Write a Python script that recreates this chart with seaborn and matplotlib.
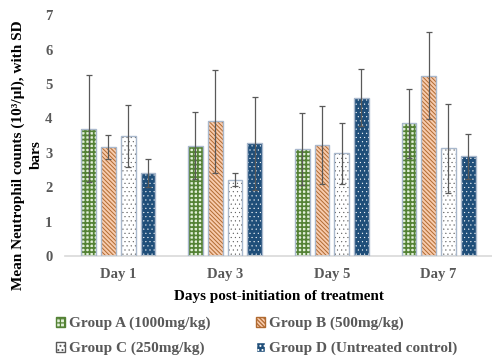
import numpy as np
import pandas as pd
import matplotlib
matplotlib.use('Agg')
import matplotlib.pyplot as plt
import seaborn as sns
from matplotlib.patches import Patch, Rectangle

days = ['Day 1', 'Day 3', 'Day 5', 'Day 7']
groups = ['Group A (1000mg/kg)', 'Group B (500mg/kg)',
          'Group C (250mg/kg)', 'Group D (Untreated control)']

# mean neutrophil counts per group, one value per day
group_a = [3.70, 3.21, 3.11, 3.85]
group_b = [3.17, 3.91, 3.22, 5.24]
group_c = [3.49, 2.22, 2.98, 3.13]
group_d = [2.41, 3.27, 4.60, 2.90]

# standard deviations
sd_a = [1.55, 0.98, 1.04, 1.00]
sd_b = [0.34, 1.50, 1.14, 1.27]
sd_c = [0.89, 0.19, 0.88, 1.30]
sd_d = [0.41, 1.36, 0.83, 0.65]

means = [group_a, group_b, group_c, group_d]
sds = [sd_a, sd_b, sd_c, sd_d]

df = pd.DataFrame({
    'day': np.tile(days, 4),
    'group': np.repeat(groups, 4),
    'count': np.concatenate(means),
})

sns.set_style('white')
plt.rcParams['font.family'] = ['Liberation Serif', 'DejaVu Serif']
plt.rcParams['font.weight'] = 'bold'
plt.rcParams['hatch.linewidth'] = 0.9

# face colour, hatch, hatch colour, hatch line width
styles = [
    ('#E2F0D9', '++++', '#548235', 1.25),
    ('#F8CBAD', '\\' * 8, '#B06A30', 0.7),
    ('#FFFFFF', '....', '#595959', 0.3),
    ('#1F4E79', '....', '#FFFFFF', 0.3),
]
outline = '#A9B8CC'
grey = '#595959'

fig = plt.figure(figsize=(4.92, 3.6), dpi=100)
ax = fig.add_axes([0.132, 0.289, 0.868, 0.669])

sns.barplot(data=df, x='day', y='count', hue='group', order=days,
            hue_order=groups, width=0.74, gap=0.25, errorbar=None,
            legend=False, ax=ax)

bar_sets = list(ax.containers)[:4]
for i, cont in enumerate(bar_sets):
    fc, h, hc, hlw = styles[i]
    xs = []
    for bar in cont:
        bar.set_facecolor(fc)
        bar.set_hatch(h)
        bar.set_edgecolor(hc)
        bar.set_linewidth(0)
        if hasattr(bar, 'set_hatch_linewidth'):
            bar.set_hatch_linewidth(hlw)
        ax.add_patch(Rectangle(bar.get_xy(), bar.get_width(), bar.get_height(),
                               fill=False, edgecolor=outline, lw=1.0, zorder=3))
        xs.append(bar.get_x() + bar.get_width() / 2)
    ax.errorbar(xs, means[i], yerr=sds[i], fmt='none', ecolor=grey,
                elinewidth=0.9, capsize=2.5, capthick=0.9, zorder=4)

ax.set_ylim(0, 7)
ax.set_xlim(-0.5, 3.5)
ax.set_yticks(range(8))
ax.tick_params(axis='both', length=0, colors=grey, labelsize=10.5)
ax.tick_params(axis='y', pad=9)
ax.tick_params(axis='x', pad=9)
for lab in ax.get_xticklabels() + ax.get_yticklabels():
    lab.set_fontweight('bold')
for s in ['top', 'right', 'left']:
    ax.spines[s].set_visible(False)
ax.spines['bottom'].set_color('#D9D9D9')
ax.spines['bottom'].set_linewidth(1.2)

ax.set_xlabel('Days post-initiation of treatment', fontsize=10.9,
              fontweight='bold', color='black', labelpad=6)
ax.set_ylabel('Mean Neutrophil counts (10³/µl), with SD\nbars', fontsize=11,
              fontweight='bold', color='black', linespacing=1.45)
ax.yaxis.set_label_coords(-0.052, 0.42)

handles = [Patch(facecolor=fc, hatch=h, edgecolor=hc) for fc, h, hc, _ in styles]
order = [0, 2, 1, 3]
leg = fig.legend([handles[k] for k in order], [groups[k] for k in order],
                 loc='lower left', bbox_to_anchor=(0.085, -0.025), ncol=2,
                 frameon=False, handlelength=0.6, handleheight=0.6,
                 handletextpad=0.25, columnspacing=3.0, labelspacing=0.75,
                 prop={'size': 11, 'weight': 'bold'})
for t in leg.get_texts():
    t.set_color(grey)

fig.savefig('out.png', dpi=100)
